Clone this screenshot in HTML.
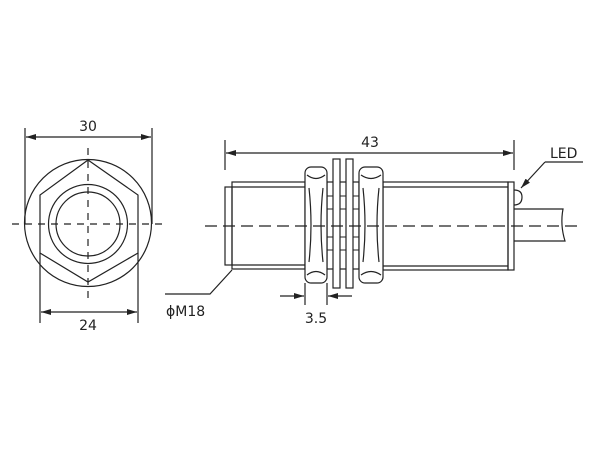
<!DOCTYPE html>
<html><head><style>body{margin:0;background:#fff}svg{display:block}text{font-family:"DejaVu Sans","Liberation Sans",sans-serif;font-size:14px;fill:#222}</style></head>
<body>
<svg width="600" height="452" viewBox="0 0 600 452" xmlns="http://www.w3.org/2000/svg">
<defs><marker id="a" markerWidth="10" markerHeight="6" refX="10" refY="3" orient="auto-start-reverse" markerUnits="userSpaceOnUse"><path d="M0,0 L10,3 L0,6 z" fill="#222"/></marker></defs>
<g fill="none" stroke="#222" stroke-width="1.2">
<!-- left view -->
<circle cx="88" cy="223" r="63.5"/>
<polygon points="88,160 138,195 138,253 88,282 40,253 40,195"/>
<circle cx="88" cy="224" r="39.5"/>
<circle cx="88" cy="224" r="32"/>
<line x1="25" y1="128" x2="25" y2="224"/><line x1="152" y1="128" x2="152" y2="224"/>
<line x1="26" y1="137" x2="151" y2="137" marker-start="url(#a)" marker-end="url(#a)"/>
<line x1="40" y1="253" x2="40" y2="323"/><line x1="138" y1="253" x2="138" y2="323"/>
<line x1="41" y1="312" x2="137" y2="312" marker-start="url(#a)" marker-end="url(#a)"/>
<g stroke-dasharray="7,6"><line x1="12" y1="224" x2="166" y2="224"/><line x1="88" y1="148" x2="88" y2="302"/></g>
<!-- right view -->
<rect x="225" y="187" width="7" height="78"/>
<rect x="232" y="182" width="73" height="87"/><line x1="232" y1="187" x2="305" y2="187"/><line x1="232" y1="265" x2="305" y2="265"/>
<rect x="383" y="182" width="125" height="88"/><line x1="383" y1="187" x2="508" y2="187"/><line x1="383" y1="266" x2="508" y2="266"/>
<rect x="508" y="182" width="6" height="88"/>
<rect x="327" y="182" width="32" height="87"/>
<g stroke-width="1">
<line x1="327" y1="196" x2="359" y2="196"/><line x1="327" y1="209" x2="359" y2="209"/><line x1="327" y1="237" x2="359" y2="237"/><line x1="327" y1="250" x2="359" y2="250"/>
</g>
<rect x="305" y="167" width="22" height="116" rx="6" fill="#fff"/>
<path d="M307,175 Q316,182 325,175 M307,275 Q316,268 325,275 M309,188 Q313,225 309,262 M323,188 Q319,225 323,262"/>
<rect x="359" y="167" width="24" height="116" rx="6" fill="#fff"/>
<path d="M361,175 Q371,182 381,175 M361,275 Q371,268 381,275 M363,188 Q367,225 363,262 M379,188 Q375,225 379,262"/>
<rect x="333" y="159" width="7" height="129" fill="#fff"/>
<rect x="346" y="159" width="7" height="129" fill="#fff"/>
<path d="M514,190 Q522,190 522,197 Q522,205 514,205"/>
<path d="M514,209 L563,209 Q560,225 565,241 L514,241"/>
<line x1="225" y1="140" x2="225" y2="170"/><line x1="514" y1="140" x2="514" y2="170"/>
<line x1="226" y1="153" x2="513" y2="153" marker-start="url(#a)" marker-end="url(#a)"/>
<line x1="305" y1="283" x2="305" y2="305"/><line x1="327" y1="283" x2="327" y2="305"/>
<line x1="280" y1="296" x2="304" y2="296" marker-end="url(#a)"/>
<line x1="352" y1="296" x2="328" y2="296" marker-end="url(#a)"/>
<line x1="545" y1="162" x2="521" y2="188" marker-end="url(#a)"/><line x1="545" y1="162" x2="583" y2="162"/>
<polyline points="232,270 210,294 165,294"/>
<line x1="205" y1="226" x2="580" y2="226" stroke-dasharray="12,6"/>
</g>
<text x="88" y="131" text-anchor="middle">30</text>
<text x="88" y="330" text-anchor="middle">24</text>
<text x="370" y="147" text-anchor="middle">43</text>
<text x="316" y="323" text-anchor="middle">3.5</text>
<text x="166" y="316">ϕM18</text>
<text x="550" y="158">LED</text>
</svg>
</body></html>
